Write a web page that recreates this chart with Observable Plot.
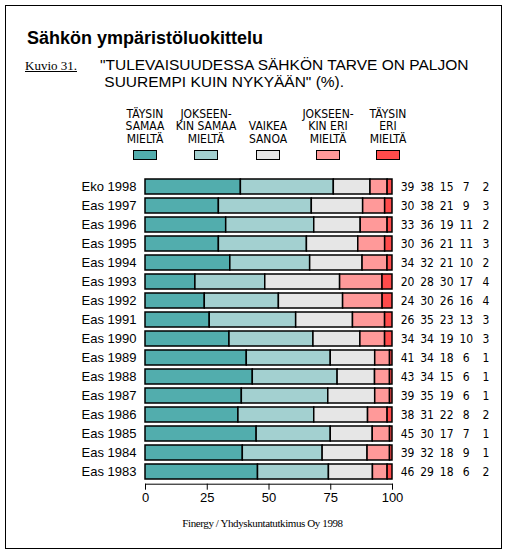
<!DOCTYPE html>
<html>
<head>
<meta charset="utf-8">
<script src="https://cdn.jsdelivr.net/npm/d3@7"></script>
<script src="https://cdn.jsdelivr.net/npm/@observablehq/plot@0.6"></script>
<style>
  body { margin: 0; background: #fff; }
  #wrap { position: relative; width: 509px; height: 556px; font-family: "Liberation Sans", Arial, sans-serif; }
  #frame { position: absolute; left: 5px; top: 5px; width: 497px; height: 544px; border: 1.5px solid #000; box-sizing: border-box; }
  #title { position: absolute; left: 27px; top: 28px; font-size: 18px; font-weight: bold; }
  #kuvio { position: absolute; left: 25px; top: 58px; font-family: "Liberation Serif", serif; font-size: 13px; text-decoration: underline; }
  #quote { position: absolute; left: 100px; top: 56px; font-size: 15.5px; line-height: 17px; }
  #legend { position: absolute; top: 104px; left: 0; }
  .item { position: absolute; width: 70px; margin-left: -35px; height: 56px; text-align: center;
          font-family: "Liberation Sans Narrow", "DejaVu Sans Condensed", sans-serif; font-size: 12px; line-height: 12.5px; }
  .lab { position: absolute; bottom: 15px; left: 0; right: 0; }
  .sw { position: absolute; left: 23px; bottom: 0; width: 24px; height: 10px; border: 1px solid #000; box-sizing: border-box; }
  #footer { position: absolute; top: 517px; left: 0; width: 525px; text-align: center;
            font-family: "Liberation Serif", serif; font-size: 11px; letter-spacing: -0.4px; }
  #chart { position: absolute; left: 0; top: 0; }
</style>
</head>
<body>
<div id="wrap">
  <div id="chart"></div>
  <div id="frame"></div>
  <div id="title">Sähkön ympäristöluokittelu</div>
  <div id="kuvio">Kuvio 31.</div>
  <div id="quote">"TULEVAISUUDESSA SÄHKÖN TARVE ON PALJON<br>&nbsp;SUUREMPI KUIN NYKYÄÄN" (%).</div>
  <div id="legend"></div>
  <div id="footer">Finergy / Yhdyskuntatutkimus Oy 1998</div>
</div>
<script>
const labels = ["Eko 1998","Eas 1997","Eas 1996","Eas 1995","Eas 1994","Eas 1993","Eas 1992","Eas 1991",
  "Eas 1990","Eas 1989","Eas 1988","Eas 1987","Eas 1986","Eas 1985","Eas 1984","Eas 1983"]
const categories = ["TÄYSIN SAMAA MIELTÄ","JOKSEENKIN SAMAA MIELTÄ","VAIKEA SANOA","JOKSEENKIN ERI MIELTÄ","TÄYSIN ERI MIELTÄ"]
const legendLines = [["TÄYSIN","SAMAA","MIELTÄ"],["JOKSEEN-","KIN SAMAA","MIELTÄ"],["VAIKEA","SANOA"],["JOKSEEN-","KIN ERI","MIELTÄ"],["TÄYSIN","ERI","MIELTÄ"]]
const colors = ["#52adad","#a3d0d0","#e6e6e6","#ff9999","#ff4b4b"]

const taysinSamaa     = [39,30,33,30,34,20,24,26,34,41,43,39,38,45,39,46]
const jokseenkinSamaa = [38,38,36,36,32,28,30,35,34,34,34,35,31,30,32,29]
const vaikeaSanoa     = [15,21,19,21,21,30,26,23,19,18,15,19,22,17,18,18]
const jokseenkinEri   = [7,9,11,11,10,17,16,13,10,6,6,6,8,7,9,6]
const taysinEri       = [2,3,2,3,2,4,4,3,3,1,1,1,2,1,1,2]
const series = [taysinSamaa, jokseenkinSamaa, vaikeaSanoa, jokseenkinEri, taysinEri]

// pitka taulukko: rivi per vuosi ja vastausluokka
let table = []
labels.forEach((label, i) => {
  series.forEach((s, j) => table.push({label, cat: categories[j], idx: j, value: s[i]}))
})

// selite
const legendCenters = [145, 206, 268, 328, 388]
let legend = d3.select("#legend")
categories.forEach((c, j) => {
  let it = legend.append("div").attr("class", "item").style("left", legendCenters[j] + "px")
  it.append("div").attr("class", "lab").html(legendLines[j].join("<br>"))
  it.append("div").attr("class", "sw").style("background", colors[j])
})

let chart = Plot.plot({
  width: 509,
  height: 556,
  marginTop: 173.8,
  marginBottom: 72.3,
  marginLeft: 145,
  marginRight: 117,
  style: {fontFamily: "Liberation Sans, Arial, sans-serif", fontSize: "13px", color: "#000"},
  x: {
    domain: [0, 1],
    ticks: [0, 0.25, 0.5, 0.75, 1],
    tickFormat: d => Math.round(d * 100),
    tickSize: 6,
    line: true,
    label: null
  },
  y: {domain: labels, paddingInner: 0.2, paddingOuter: 0.1, tickSize: 0, tickPadding: 9, label: null},
  color: {domain: categories, range: colors},
  marks: [
    Plot.barX(table, Plot.stackX({offset: "normalize"}, {
      x: "value", y: "label", fill: "cat", stroke: "black", strokeWidth: 1.5
    })),
    ...categories.map((c, j) => Plot.text(table.filter(d => d.idx == j), {
      y: "label", text: "value", frameAnchor: "right", dx: 15 + j * 19.6,
      textAnchor: "middle", fontSize: 12, fontFamily: "Liberation Sans Narrow, DejaVu Sans Condensed, sans-serif"
    }))
  ]
})

d3.select("#chart").append(() => chart)
</script>
</body>
</html>
